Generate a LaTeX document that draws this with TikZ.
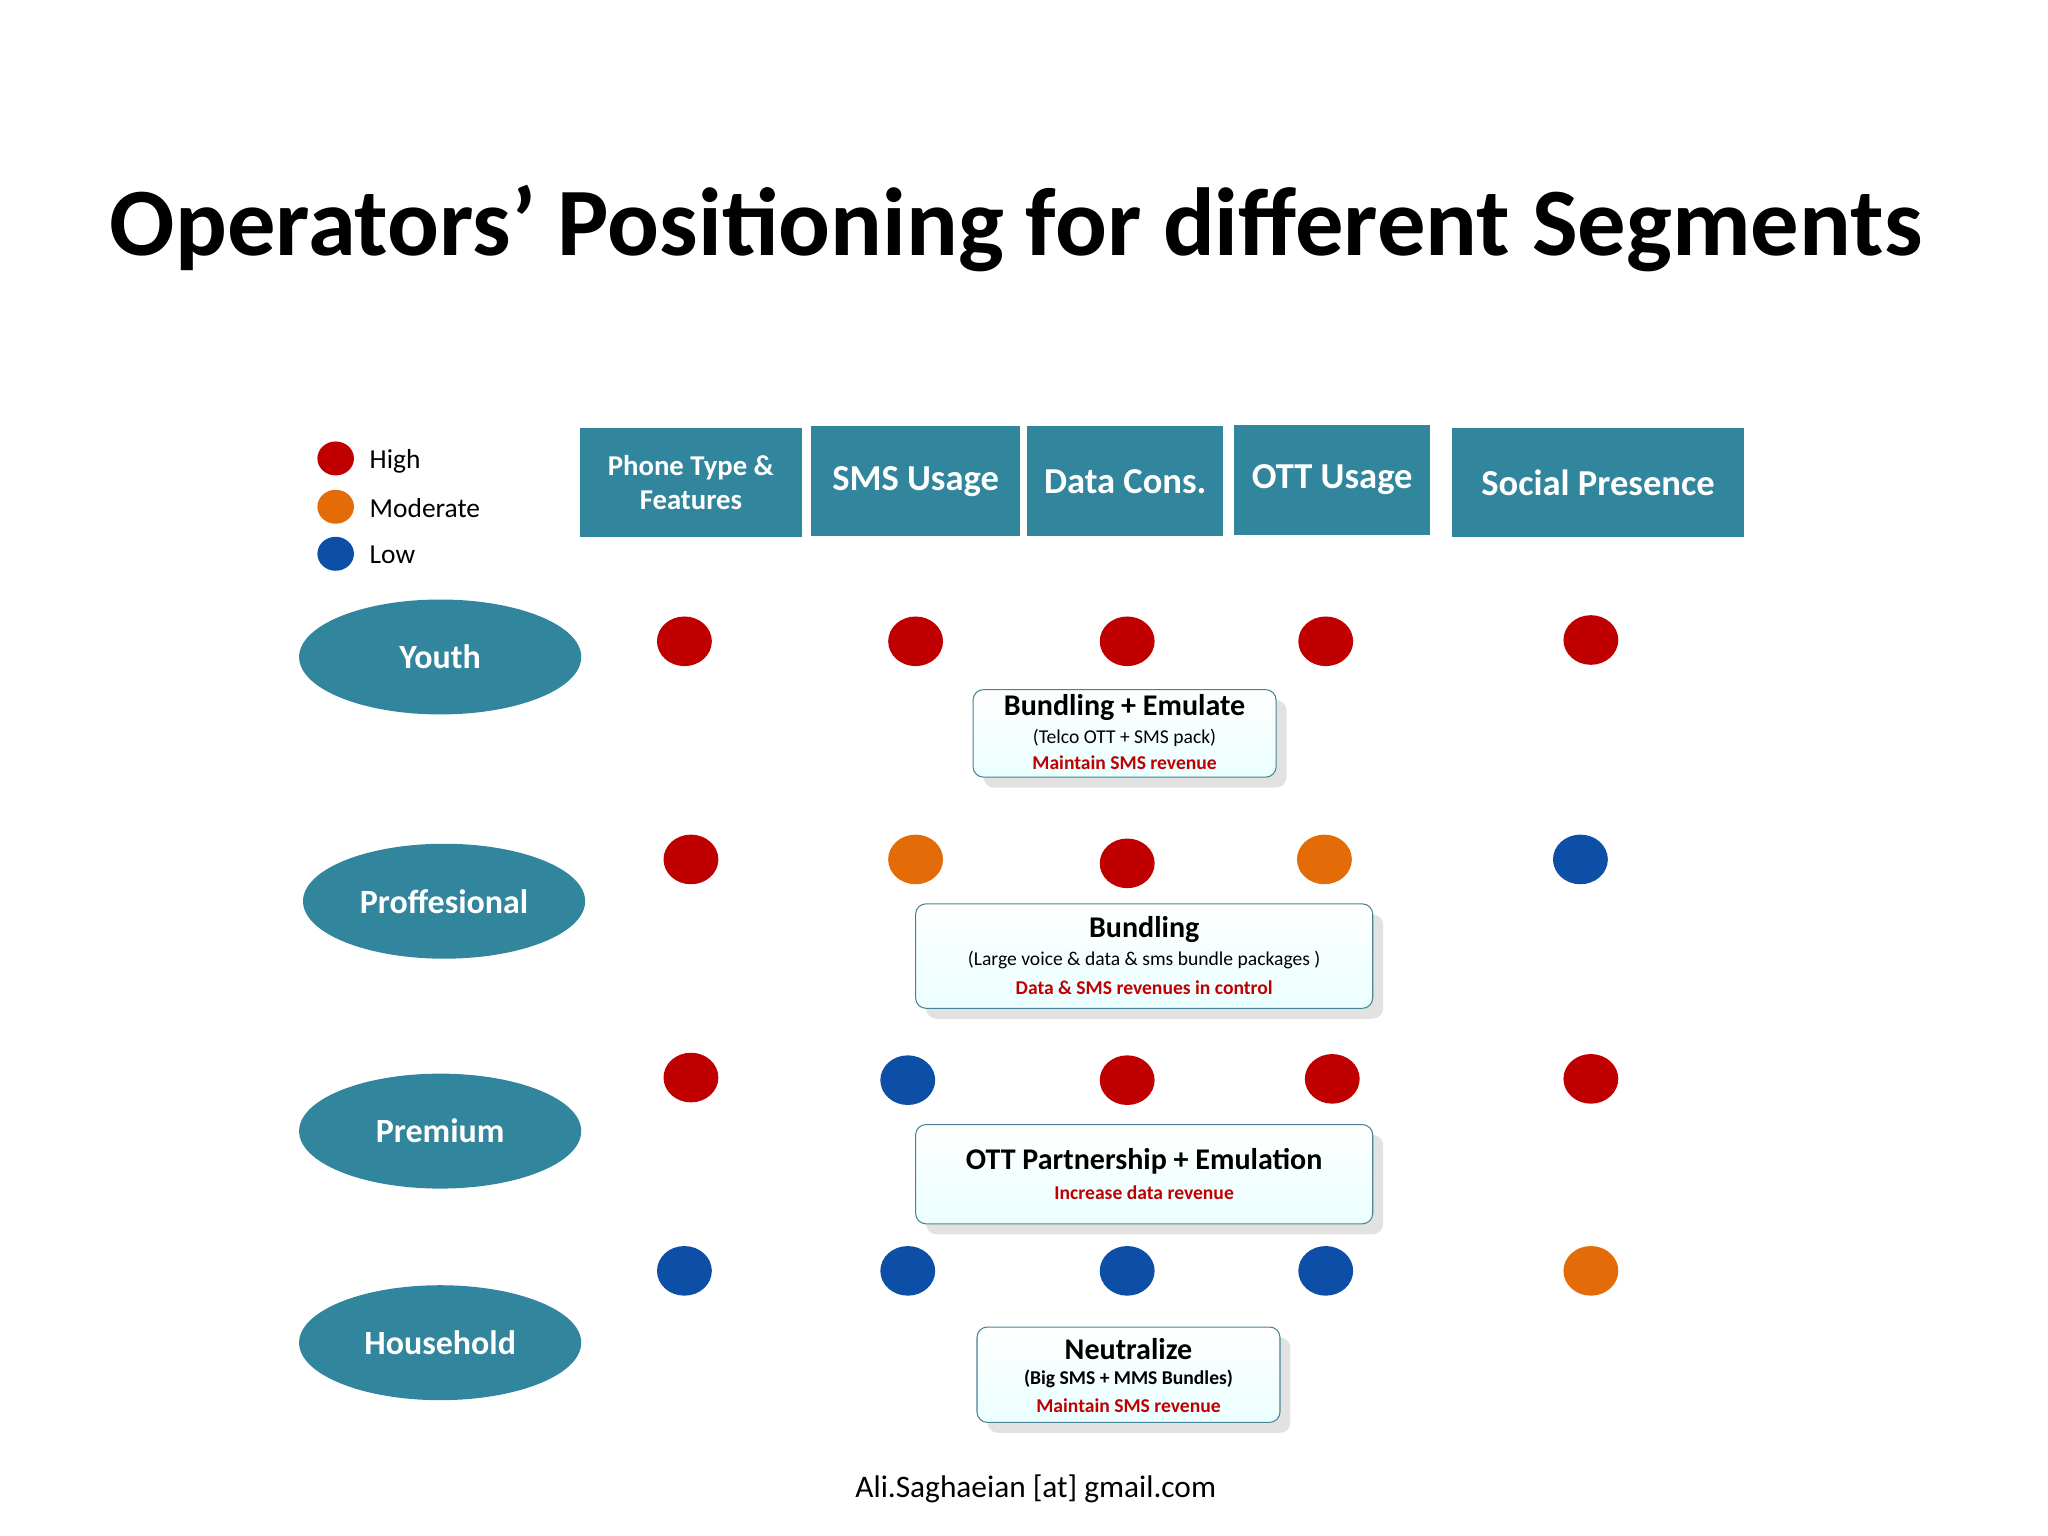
\documentclass[tikz,border=0pt]{standalone}
\usepackage{fontspec}
\setmainfont{Carlito}
\usetikzlibrary{shapes.geometric,shadows}
\definecolor{teal1}{HTML}{31859C}
\definecolor{hi}{HTML}{C00000}
\definecolor{mo}{HTML}{E36C09}
\definecolor{lo}{HTML}{0D4EA6}
\begin{document}
\begin{tikzpicture}[x=0.5pt,y=-0.5pt,
 hdr/.style={fill=teal1,text=white,font=\bfseries\fontsize{14}{15}\selectfont,align=center,inner sep=0},
 seg/.style={ellipse,fill=teal1,text=white,font=\bfseries\fontsize{13}{14}\selectfont,minimum width=108pt,minimum height=44pt},
 dot/.style={ellipse,minimum width=21pt,minimum height=19pt,inner sep=0},
 ldot/.style={ellipse,minimum width=14pt,minimum height=13pt,inner sep=0},
 call/.style={rounded corners=4pt,draw=teal1!70!gray,top color=white,bottom color=cyan!8,align=center,inner sep=0,
   drop shadow={shadow xshift=4pt,shadow yshift=-4pt,fill=gray!45}},
 ctitle/.style={font=\bfseries\fontsize{11.5}{13}\selectfont},
 csub/.style={font=\fontsize{7.5}{9}\selectfont},
 cred/.style={font=\bfseries\fontsize{7.5}{9}\selectfont,text=hi}]
\useasboundingbox (0,0) rectangle (1568,1176);
\node[font=\bfseries\fontsize{37}{40}\selectfont] (title) at (778,175) {Operators’ Positioning for different Segments};
% legend
\node[ldot,fill=hi] (lh) at (257,351) {};
\node[ldot,fill=mo] (lm) at (257,388) {};
\node[ldot,fill=lo] (ll) at (257,424) {};
\node[anchor=west,font=\fontsize{10.5}{12}\selectfont] (th) at (276,353) {High};
\node[anchor=west,font=\fontsize{10.5}{12}\selectfont] (tm) at (276,389) {Moderate};
\node[anchor=west,font=\fontsize{10.5}{12}\selectfont] (tl) at (276,425) {Low};
% headers
\node[hdr,minimum width=85pt,minimum height=42pt,font=\bfseries\fontsize{11}{13}\selectfont] (h1) at (529,369.5) {Phone Type \&\\Features};
\node[hdr,minimum width=80pt,minimum height=42pt] (h2) at (701,368.5) {SMS Usage};
\node[hdr,minimum width=75pt,minimum height=42pt] (h3) at (861.5,368.5) {Data Cons.};
\node[hdr,minimum width=75pt,minimum height=42pt] (h4) at (1020,367.5) {OTT Usage};
\node[hdr,minimum width=111.5pt,minimum height=42pt] (h5) at (1223.5,369.5) {Social Presence};
% segments
\node[seg] (s1) at (337,503) {Youth};
\node[seg] (s2) at (340,690) {Proffesional};
\node[seg] (s3) at (337,866) {Premium};
\node[seg] (s4) at (337,1028) {Household};
% dots
\node[dot,fill=hi] (d11) at (524,491) {};
\node[dot,fill=hi] (d12) at (701,491) {};
\node[dot,fill=hi] (d13) at (863,491) {};
\node[dot,fill=hi] (d14) at (1015,491) {};
\node[dot,fill=hi] (d15) at (1218,490) {};
\node[dot,fill=hi] (d21) at (529,658) {};
\node[dot,fill=mo] (d22) at (701,658) {};
\node[dot,fill=hi] (d23) at (863,661) {};
\node[dot,fill=mo] (d24) at (1014,658) {};
\node[dot,fill=lo] (d25) at (1210,658) {};
\node[dot,fill=hi] (d31) at (529,825) {};
\node[dot,fill=lo] (d32) at (695,827) {};
\node[dot,fill=hi] (d33) at (863,827) {};
\node[dot,fill=hi] (d34) at (1020,826) {};
\node[dot,fill=hi] (d35) at (1218,826) {};
\node[dot,fill=lo] (d41) at (524,973) {};
\node[dot,fill=lo] (d42) at (695,973) {};
\node[dot,fill=lo] (d43) at (863,973) {};
\node[dot,fill=lo] (d44) at (1015,973) {};
\node[dot,fill=mo] (d45) at (1218,973) {};
% callouts
\node[call,minimum width=116pt,minimum height=33.5pt] (c1) at (861,561.5) {};
\node[ctitle] (c1a) at (861,542) {Bundling + Emulate};
\node[csub] (c1b) at (861,565) {(Telco OTT + SMS pack)};
\node[cred] (c1c) at (861,584) {Maintain SMS revenue};
\node[call,minimum width=175pt,minimum height=40pt] (c2) at (876,732) {};
\node[ctitle] (c2a) at (876,712) {Bundling};
\node[csub] (c2b) at (876,735) {(Large voice \& data \& sms bundle packages )};
\node[cred] (c2c) at (876,756) {Data \& SMS revenues in control};
\node[call,minimum width=175pt,minimum height=38pt] (c3) at (876,899) {};
\node[ctitle] (c3a) at (876,889) {OTT Partnership + Emulation};
\node[cred] (c3b) at (876,913) {Increase data revenue};
\node[call,minimum width=116pt,minimum height=36.5pt] (c4) at (864,1052.5) {};
\node[ctitle] (c4a) at (864,1033) {Neutralize};
\node[csub,font=\bfseries\fontsize{7.5}{9}\selectfont] (c4b) at (864,1056) {(Big SMS + MMS Bundles)};
\node[cred] (c4c) at (864,1076) {Maintain SMS revenue};
\node[font=\fontsize{12}{14}\selectfont] (foot) at (793,1140) {Ali.Saghaeian [at] gmail.com};
\end{tikzpicture}
\end{document}
